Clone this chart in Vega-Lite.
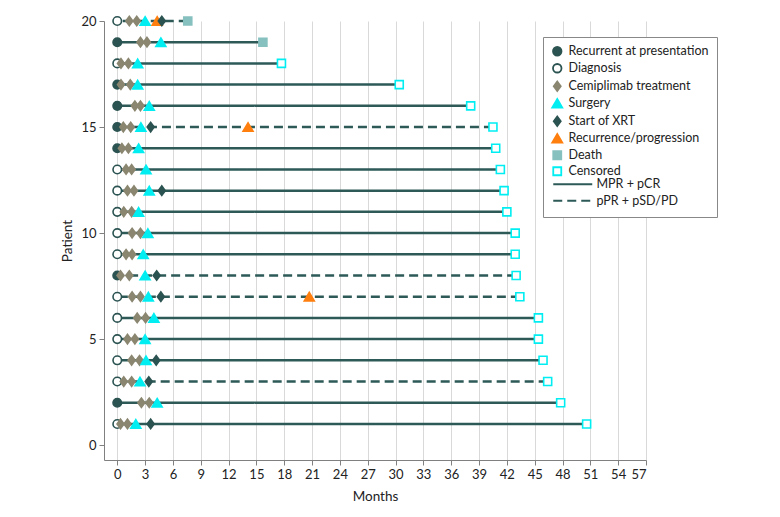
{
  "$schema": "https://vega.github.io/schema/vega-lite/v6.json",
  "width": 542,
  "height": 439,
  "autosize": {"type": "none"},
  "padding": {"left": 104, "top": 21, "right": 134, "bottom": 57},
  "background": "white",
  "config": {
    "font": "Lato",
    "view": {"stroke": null},
    "axis": {
      "labelFontSize": 13,
      "titleFontSize": 13.5,
      "titleFontWeight": "normal",
      "labelColor": "#222222",
      "titleColor": "#222222",
      "domainColor": "#808080",
      "tickColor": "#808080",
      "tickSize": 5,
      "gridColor": "#d9d9d9",
      "labelFont": "Lato",
      "titleFont": "Lato"
    },
    "legend": {
      "labelFont": "Lato",
      "orient": "none",
      "legendX": 439,
      "legendY": 16,
      "padding": 8,
      "strokeColor": "#888888",
      "fillColor": "white",
      "symbolSize": 100,
      "symbolStrokeWidth": 1.8,
      "labelFontSize": 12.5,
      "labelColor": "#222222",
      "labelOffset": 5,
      "rowPadding": 0
    }
  },
  "datasets": {
    "events": [
      {"p": 20, "m": 0, "e": "Diagnosis"},
      {"p": 20, "m": 1.3, "e": "Cemiplimab treatment"},
      {"p": 20, "m": 2.1, "e": "Cemiplimab treatment"},
      {"p": 20, "m": 3.0, "e": "Surgery"},
      {"p": 20, "m": 4.3, "e": "Recurrence/progression"},
      {"p": 20, "m": 4.8, "e": "Start of XRT"},
      {"p": 20, "m": 7.6, "e": "Death"},
      {"p": 19, "m": 0, "e": "Recurrent at presentation"},
      {"p": 19, "m": 2.5, "e": "Cemiplimab treatment"},
      {"p": 19, "m": 3.2, "e": "Cemiplimab treatment"},
      {"p": 19, "m": 4.7, "e": "Surgery"},
      {"p": 19, "m": 15.7, "e": "Death"},
      {"p": 18, "m": 0, "e": "Diagnosis"},
      {"p": 18, "m": 0.4, "e": "Cemiplimab treatment"},
      {"p": 18, "m": 1.2, "e": "Cemiplimab treatment"},
      {"p": 18, "m": 2.2, "e": "Surgery"},
      {"p": 18, "m": 17.7, "e": "Censored"},
      {"p": 17, "m": 0, "e": "Recurrent at presentation"},
      {"p": 17, "m": 0.4, "e": "Cemiplimab treatment"},
      {"p": 17, "m": 1.4, "e": "Cemiplimab treatment"},
      {"p": 17, "m": 2.2, "e": "Surgery"},
      {"p": 17, "m": 30.4, "e": "Censored"},
      {"p": 16, "m": 0, "e": "Recurrent at presentation"},
      {"p": 16, "m": 1.9, "e": "Cemiplimab treatment"},
      {"p": 16, "m": 2.5, "e": "Cemiplimab treatment"},
      {"p": 16, "m": 3.45, "e": "Surgery"},
      {"p": 16, "m": 38.1, "e": "Censored"},
      {"p": 15, "m": 0, "e": "Recurrent at presentation"},
      {"p": 15, "m": 0.65, "e": "Cemiplimab treatment"},
      {"p": 15, "m": 1.45, "e": "Cemiplimab treatment"},
      {"p": 15, "m": 2.55, "e": "Surgery"},
      {"p": 15, "m": 3.6, "e": "Start of XRT"},
      {"p": 15, "m": 14.1, "e": "Recurrence/progression"},
      {"p": 15, "m": 40.5, "e": "Censored"},
      {"p": 14, "m": 0, "e": "Recurrent at presentation"},
      {"p": 14, "m": 0.5, "e": "Cemiplimab treatment"},
      {"p": 14, "m": 1.2, "e": "Cemiplimab treatment"},
      {"p": 14, "m": 2.3, "e": "Surgery"},
      {"p": 14, "m": 40.8, "e": "Censored"},
      {"p": 13, "m": 0, "e": "Diagnosis"},
      {"p": 13, "m": 0.95, "e": "Cemiplimab treatment"},
      {"p": 13, "m": 1.55, "e": "Cemiplimab treatment"},
      {"p": 13, "m": 3.1, "e": "Surgery"},
      {"p": 13, "m": 41.3, "e": "Censored"},
      {"p": 12, "m": 0, "e": "Diagnosis"},
      {"p": 12, "m": 1.1, "e": "Cemiplimab treatment"},
      {"p": 12, "m": 1.8, "e": "Cemiplimab treatment"},
      {"p": 12, "m": 3.45, "e": "Surgery"},
      {"p": 12, "m": 4.8, "e": "Start of XRT"},
      {"p": 12, "m": 41.7, "e": "Censored"},
      {"p": 11, "m": 0, "e": "Diagnosis"},
      {"p": 11, "m": 0.7, "e": "Cemiplimab treatment"},
      {"p": 11, "m": 1.55, "e": "Cemiplimab treatment"},
      {"p": 11, "m": 2.3, "e": "Surgery"},
      {"p": 11, "m": 42.0, "e": "Censored"},
      {"p": 10, "m": 0, "e": "Diagnosis"},
      {"p": 10, "m": 1.6, "e": "Cemiplimab treatment"},
      {"p": 10, "m": 2.5, "e": "Cemiplimab treatment"},
      {"p": 10, "m": 3.3, "e": "Surgery"},
      {"p": 10, "m": 42.9, "e": "Censored"},
      {"p": 9, "m": 0, "e": "Diagnosis"},
      {"p": 9, "m": 0.95, "e": "Cemiplimab treatment"},
      {"p": 9, "m": 1.6, "e": "Cemiplimab treatment"},
      {"p": 9, "m": 2.8, "e": "Surgery"},
      {"p": 9, "m": 42.9, "e": "Censored"},
      {"p": 8, "m": 0, "e": "Recurrent at presentation"},
      {"p": 8, "m": 0.35, "e": "Cemiplimab treatment"},
      {"p": 8, "m": 1.3, "e": "Cemiplimab treatment"},
      {"p": 8, "m": 3.0, "e": "Surgery"},
      {"p": 8, "m": 4.25, "e": "Start of XRT"},
      {"p": 8, "m": 43.0, "e": "Censored"},
      {"p": 7, "m": 0, "e": "Diagnosis"},
      {"p": 7, "m": 1.6, "e": "Cemiplimab treatment"},
      {"p": 7, "m": 2.5, "e": "Cemiplimab treatment"},
      {"p": 7, "m": 3.35, "e": "Surgery"},
      {"p": 7, "m": 4.7, "e": "Start of XRT"},
      {"p": 7, "m": 20.7, "e": "Recurrence/progression"},
      {"p": 7, "m": 43.4, "e": "Censored"},
      {"p": 6, "m": 0, "e": "Diagnosis"},
      {"p": 6, "m": 2.15, "e": "Cemiplimab treatment"},
      {"p": 6, "m": 3.05, "e": "Cemiplimab treatment"},
      {"p": 6, "m": 3.95, "e": "Surgery"},
      {"p": 6, "m": 45.4, "e": "Censored"},
      {"p": 5, "m": 0, "e": "Diagnosis"},
      {"p": 5, "m": 1.1, "e": "Cemiplimab treatment"},
      {"p": 5, "m": 1.9, "e": "Cemiplimab treatment"},
      {"p": 5, "m": 3.0, "e": "Surgery"},
      {"p": 5, "m": 45.4, "e": "Censored"},
      {"p": 4, "m": 0, "e": "Diagnosis"},
      {"p": 4, "m": 1.55, "e": "Cemiplimab treatment"},
      {"p": 4, "m": 2.4, "e": "Cemiplimab treatment"},
      {"p": 4, "m": 3.1, "e": "Surgery"},
      {"p": 4, "m": 4.2, "e": "Start of XRT"},
      {"p": 4, "m": 45.9, "e": "Censored"},
      {"p": 3, "m": 0, "e": "Diagnosis"},
      {"p": 3, "m": 0.7, "e": "Cemiplimab treatment"},
      {"p": 3, "m": 1.55, "e": "Cemiplimab treatment"},
      {"p": 3, "m": 2.45, "e": "Surgery"},
      {"p": 3, "m": 3.4, "e": "Start of XRT"},
      {"p": 3, "m": 46.4, "e": "Censored"},
      {"p": 2, "m": 0, "e": "Recurrent at presentation"},
      {"p": 2, "m": 2.6, "e": "Cemiplimab treatment"},
      {"p": 2, "m": 3.45, "e": "Cemiplimab treatment"},
      {"p": 2, "m": 4.3, "e": "Surgery"},
      {"p": 2, "m": 47.8, "e": "Censored"},
      {"p": 1, "m": 0, "e": "Diagnosis"},
      {"p": 1, "m": 0.35, "e": "Cemiplimab treatment"},
      {"p": 1, "m": 1.1, "e": "Cemiplimab treatment"},
      {"p": 1, "m": 2.0, "e": "Surgery"},
      {"p": 1, "m": 3.6, "e": "Start of XRT"},
      {"p": 1, "m": 50.6, "e": "Censored"}
    ],
    "lines": [
      {"p": 20, "start": 0, "m": 7.6, "r": "pPR + pSD/PD"},
      {"p": 19, "start": 0, "m": 15.7, "r": "MPR + pCR"},
      {"p": 18, "start": 0, "m": 17.7, "r": "MPR + pCR"},
      {"p": 17, "start": 0, "m": 30.4, "r": "MPR + pCR"},
      {"p": 16, "start": 0, "m": 38.1, "r": "MPR + pCR"},
      {"p": 15, "start": 0, "m": 40.5, "r": "pPR + pSD/PD"},
      {"p": 14, "start": 0, "m": 40.8, "r": "MPR + pCR"},
      {"p": 13, "start": 0, "m": 41.3, "r": "MPR + pCR"},
      {"p": 12, "start": 0, "m": 41.7, "r": "MPR + pCR"},
      {"p": 11, "start": 0, "m": 42.0, "r": "MPR + pCR"},
      {"p": 10, "start": 0, "m": 42.9, "r": "MPR + pCR"},
      {"p": 9, "start": 0, "m": 42.9, "r": "MPR + pCR"},
      {"p": 8, "start": 0, "m": 43.0, "r": "pPR + pSD/PD"},
      {"p": 7, "start": 0, "m": 43.4, "r": "pPR + pSD/PD"},
      {"p": 6, "start": 0, "m": 45.4, "r": "MPR + pCR"},
      {"p": 5, "start": 0, "m": 45.4, "r": "MPR + pCR"},
      {"p": 4, "start": 0, "m": 45.9, "r": "MPR + pCR"},
      {"p": 3, "start": 0, "m": 46.4, "r": "pPR + pSD/PD"},
      {"p": 2, "start": 0, "m": 47.8, "r": "MPR + pCR"},
      {"p": 1, "start": 0, "m": 50.6, "r": "MPR + pCR"}
    ]
  },
  "encoding": {
    "x": {
      "field": "m",
      "type": "quantitative",
      "title": "Months",
      "scale": {"domain": [-1.43, 57], "nice": false, "zero": false},
      "axis": {"values": [0, 3, 6, 9, 12, 15, 18, 21, 24, 27, 30, 33, 36, 39, 42, 45, 48, 51, 54, 57], "grid": true, "labelOverlap": false, "labelPadding": 3, "titlePadding": 8}
    },
    "y": {
      "field": "p",
      "type": "quantitative",
      "title": "Patient",
      "scale": {"domain": [-0.7, 20], "nice": false, "zero": false},
      "axis": {"values": [0, 5, 10, 15, 20], "grid": false, "labelPadding": 3, "titlePadding": 6}
    }
  },
  "layer": [
    {
      "data": {"name": "lines"},
      "mark": {"type": "rule", "stroke": "#2d5957", "strokeWidth": 2.5},
      "encoding": {
        "x2": {"field": "start"},
        "strokeDash": {
          "field": "r",
          "type": "nominal",
          "scale": {
            "domain": ["MPR + pCR", "pPR + pSD/PD"],
            "range": [[1, 0], [9, 5]]
          },
          "legend": {
            "title": null,
            "legendX": 448,
            "legendY": 157,
            "padding": 0,
            "strokeColor": "transparent",
            "fillColor": "transparent",
            "symbolType": "M-1,0L6.8,0",
            "symbolSize": 100,
            "symbolStrokeColor": "#2d5957",
            "symbolStrokeWidth": 2,
            "labelOffset": 32,
            "rowPadding": 3.5,
            "zindex": 2
          }
        }
      }
    },
    {
      "data": {"name": "events"},
      "mark": {"type": "point", "opacity": 1, "strokeWidth": 1.6, "size": 100},
      "encoding": {
        "shape": {
          "field": "e",
          "type": "nominal",
          "scale": {
            "domain": ["Recurrent at presentation", "Diagnosis", "Cemiplimab treatment", "Surgery", "Start of XRT", "Recurrence/progression", "Death", "Censored"],
            "range": [
              "M-0.85,0A0.85,0.85,0,1,1,0.85,0A0.85,0.85,0,1,1,-0.85,0Z",
              "M-0.85,0A0.85,0.85,0,1,1,0.85,0A0.85,0.85,0,1,1,-0.85,0Z",
              "M-0.7,0L0,-0.95L0.7,0L0,0.95Z",
              "M0,-0.85L1,0.85L-1,0.85Z",
              "M-0.7,0L0,-0.95L0.7,0L0,0.95Z",
              "M0,-0.85L1,0.85L-1,0.85Z",
              "M-0.8,-0.8L0.8,-0.8L0.8,0.8L-0.8,0.8Z",
              "M-0.8,-0.8L0.8,-0.8L0.8,0.8L-0.8,0.8Z"
            ]
          },
          "legend": {"title": " ", "titleOrient": "bottom", "titleFontSize": 28, "titlePadding": 2, "zindex": 1}
        },
        "fill": {
          "field": "e",
          "type": "nominal",
          "scale": {
            "domain": ["Recurrent at presentation", "Diagnosis", "Cemiplimab treatment", "Surgery", "Start of XRT", "Recurrence/progression", "Death", "Censored"],
            "range": ["#2b5351", "#ffffff", "#8a8670", "#00eef2", "#2b5351", "#ff7f0e", "#86c0bf", "#ffffff"]
          },
          "legend": {"title": " ", "titleOrient": "bottom", "titleFontSize": 28, "titlePadding": 2, "zindex": 1}
        },
        "stroke": {
          "field": "e",
          "type": "nominal",
          "scale": {
            "domain": ["Recurrent at presentation", "Diagnosis", "Cemiplimab treatment", "Surgery", "Start of XRT", "Recurrence/progression", "Death", "Censored"],
            "range": ["#2b5351", "#2b5351", "#8a8670", "#00eef2", "#2b5351", "#ff7f0e", "#86c0bf", "#00eef2"]
          },
          "legend": {"title": " ", "titleOrient": "bottom", "titleFontSize": 28, "titlePadding": 2, "zindex": 1}
        }
      }
    }
  ]
}
